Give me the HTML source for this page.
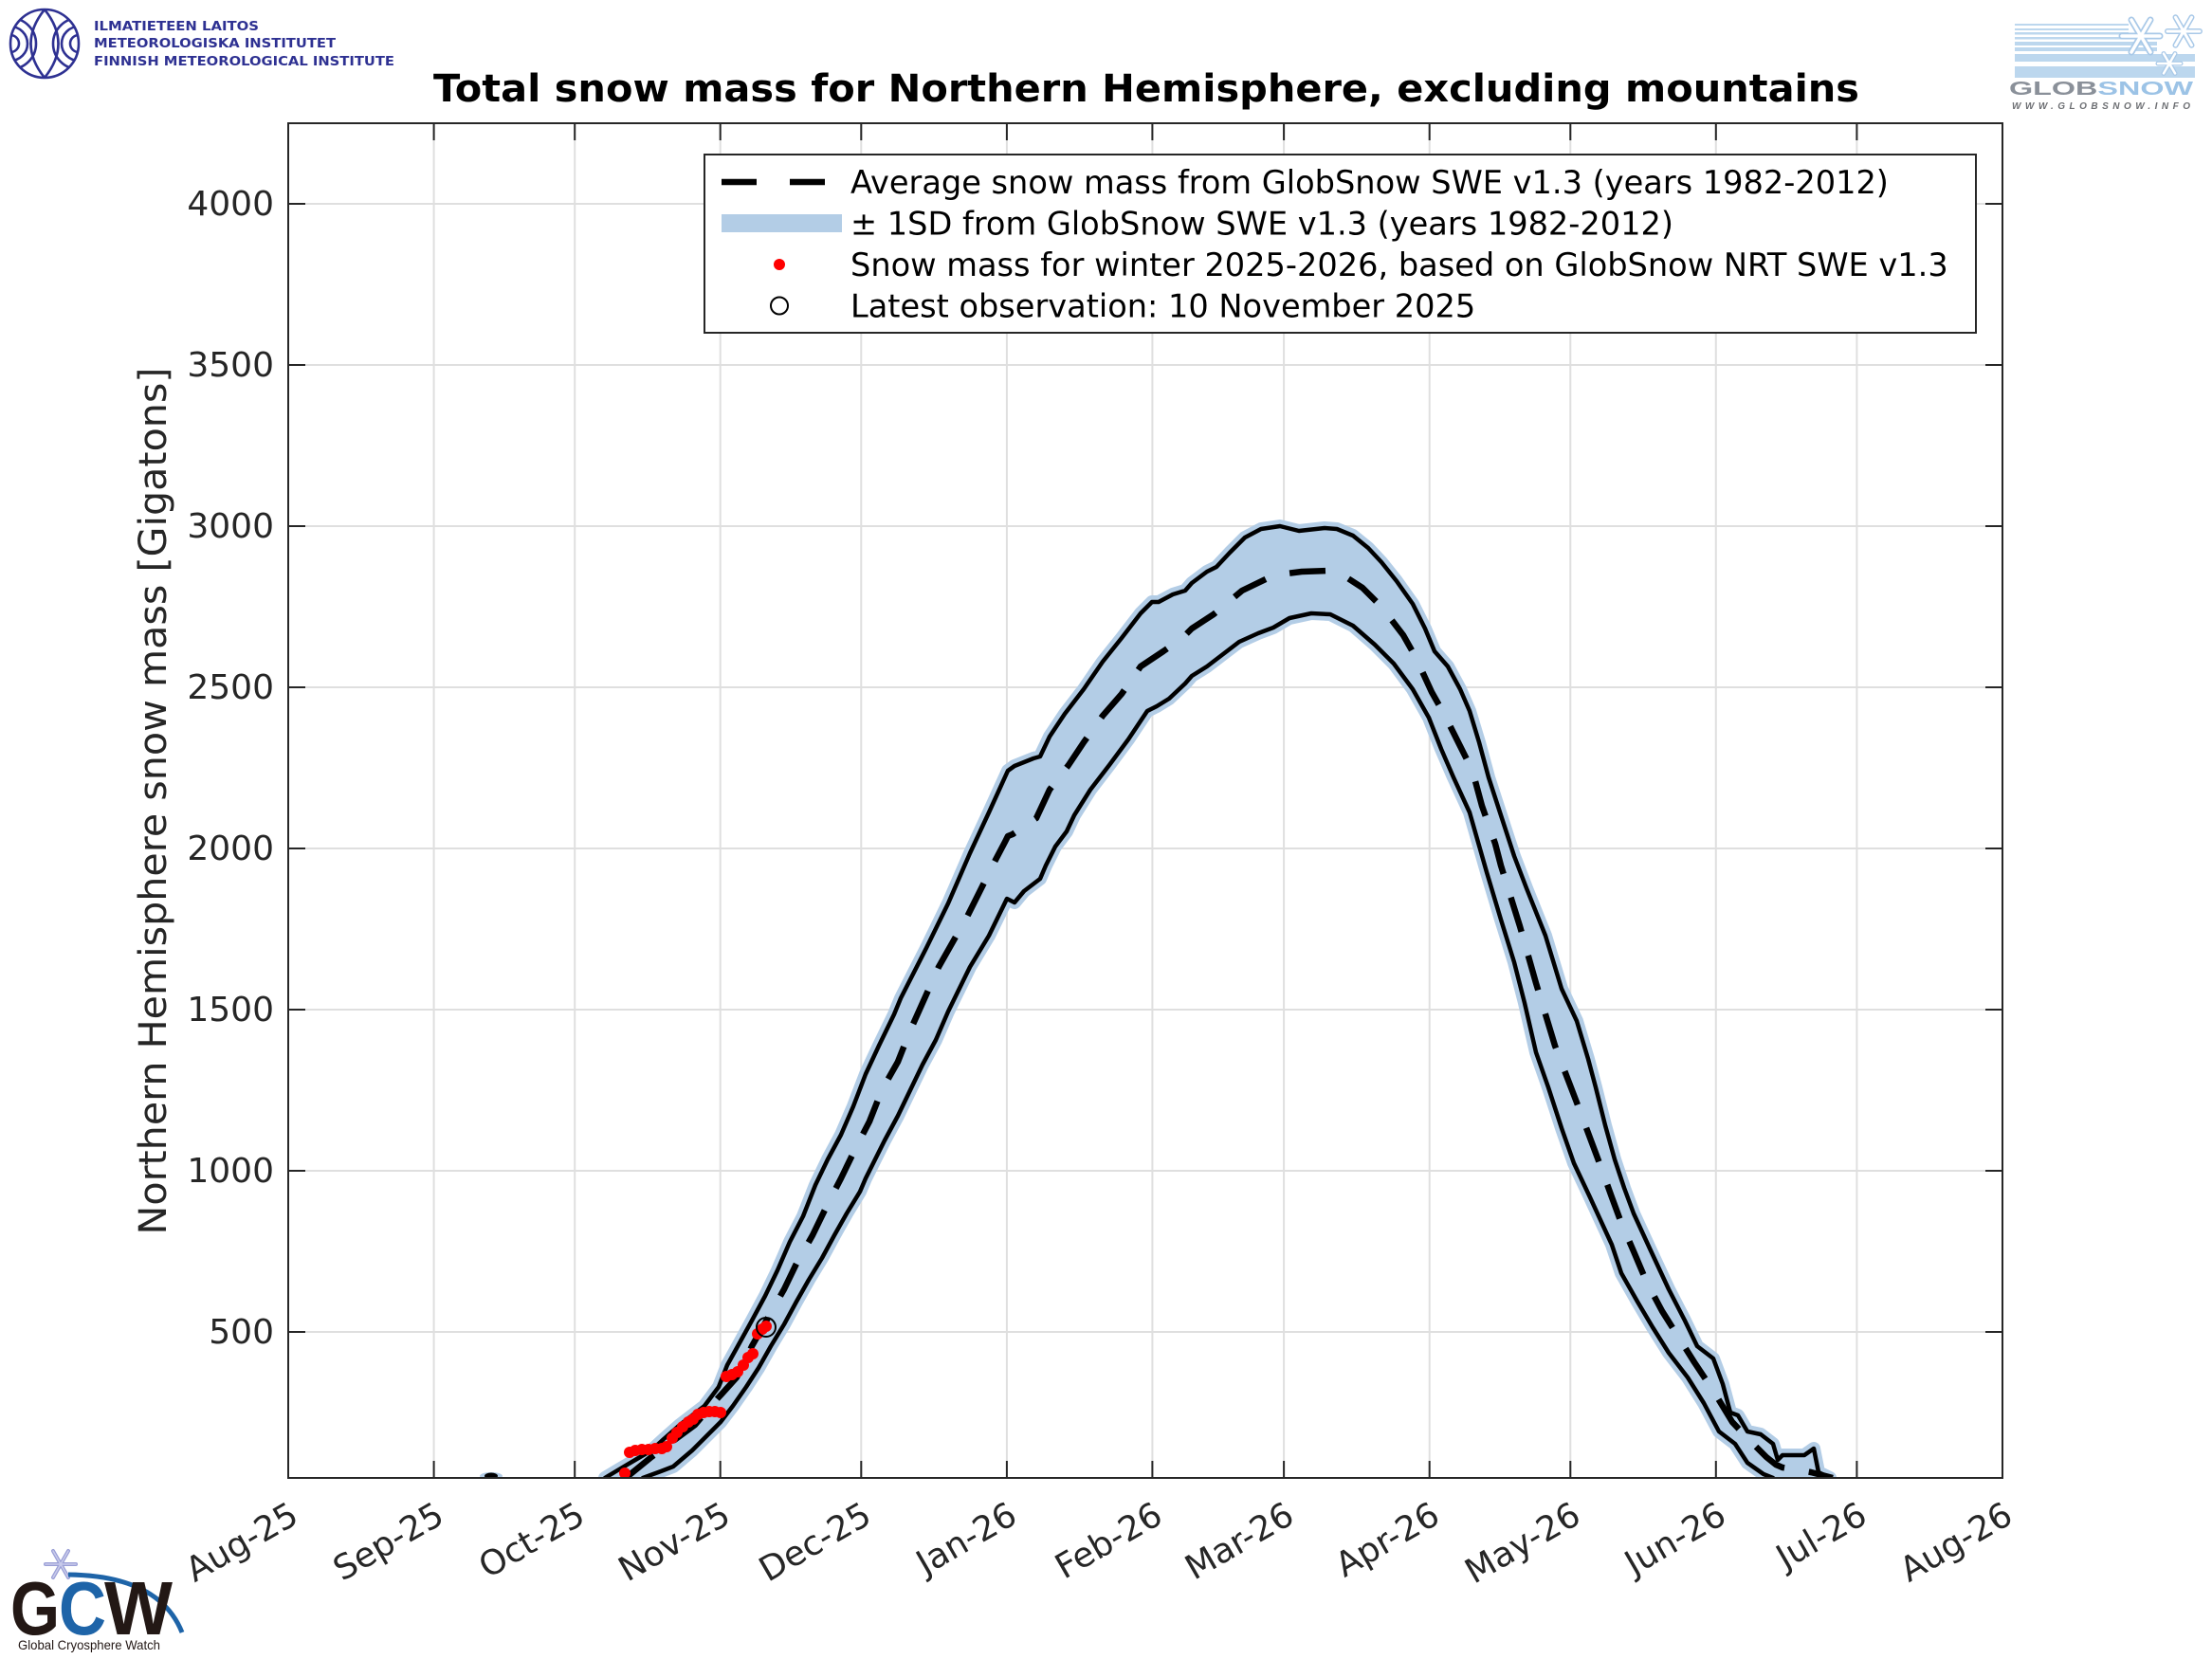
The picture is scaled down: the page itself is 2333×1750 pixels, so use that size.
<!DOCTYPE html>
<html>
<head>
<meta charset="utf-8">
<style>
html,body{margin:0;padding:0;background:#fff;}
svg{display:block;}
</style>
</head>
<body>
<svg xmlns="http://www.w3.org/2000/svg" width="2333" height="1750" viewBox="0 0 2333 1750">
<defs>
<clipPath id="pc"><rect x="304" y="130" width="1808" height="1429"/></clipPath>
<clipPath id="fmiclip"><circle cx="47" cy="46" r="36"/></clipPath>
</defs>
<rect x="0" y="0" width="2333" height="1750" fill="#ffffff"/>

<!-- FMI logo -->
<g stroke="#2e3192" fill="none" stroke-width="2.6">
<circle cx="47" cy="46" r="36"/>
<g clip-path="url(#fmiclip)">
<path d="M47 10 Q18 46 47 82"/>
<path d="M47 10 Q76 46 47 82"/>
<circle cx="11" cy="46" r="9"/>
<circle cx="11" cy="46" r="18"/>
<circle cx="11" cy="46" r="27"/>
<circle cx="83" cy="46" r="9"/>
<circle cx="83" cy="46" r="18"/>
<circle cx="83" cy="46" r="27"/>
</g>
</g>
<g font-family="DejaVu Sans, Liberation Sans, sans-serif" font-weight="bold" font-size="13" fill="#2e3192">
<text x="99" y="32" textLength="174" lengthAdjust="spacingAndGlyphs">ILMATIETEEN LAITOS</text>
<text x="99" y="50" textLength="255" lengthAdjust="spacingAndGlyphs">METEOROLOGISKA INSTITUTET</text>
<text x="99" y="69" textLength="317" lengthAdjust="spacingAndGlyphs">FINNISH METEOROLOGICAL INSTITUTE</text>
</g>

<!-- GlobSnow logo -->
<g fill="#bcd7ee">
<rect x="2125" y="25" width="120" height="2"/>
<rect x="2125" y="30" width="120" height="2"/>
<rect x="2125" y="34" width="120" height="2.5"/>
<rect x="2125" y="39" width="120" height="2.5"/>
<rect x="2125" y="44" width="150" height="4"/>
<rect x="2125" y="50" width="150" height="4"/>
<rect x="2125" y="57" width="190" height="8"/>
<rect x="2125" y="70" width="190" height="12"/>
</g>
<g stroke-linecap="round">
<g transform="translate(2258,38)">
<g stroke="#a9c9e8" stroke-width="7">
<line x1="-20" y1="0" x2="20" y2="0"/><line x1="-10" y1="-17" x2="10" y2="17"/><line x1="10" y1="-17" x2="-10" y2="17"/>
</g>
<g stroke="#ffffff" stroke-width="3.5">
<line x1="-20" y1="0" x2="20" y2="0"/><line x1="-10" y1="-17" x2="10" y2="17"/><line x1="10" y1="-17" x2="-10" y2="17"/>
</g>
</g>
<g transform="translate(2303,33)">
<g stroke="#a9c9e8" stroke-width="6">
<line x1="-17" y1="0" x2="17" y2="0"/><line x1="-8.5" y1="-14.7" x2="8.5" y2="14.7"/><line x1="8.5" y1="-14.7" x2="-8.5" y2="14.7"/>
</g>
<g stroke="#ffffff" stroke-width="3">
<line x1="-17" y1="0" x2="17" y2="0"/><line x1="-8.5" y1="-14.7" x2="8.5" y2="14.7"/><line x1="8.5" y1="-14.7" x2="-8.5" y2="14.7"/>
</g>
</g>
<g transform="translate(2288,67)">
<g stroke="#a9c9e8" stroke-width="5">
<line x1="-12" y1="0" x2="12" y2="0"/><line x1="-6" y1="-10.4" x2="6" y2="10.4"/><line x1="6" y1="-10.4" x2="-6" y2="10.4"/>
</g>
<g stroke="#ffffff" stroke-width="2.5">
<line x1="-12" y1="0" x2="12" y2="0"/><line x1="-6" y1="-10.4" x2="6" y2="10.4"/><line x1="6" y1="-10.4" x2="-6" y2="10.4"/>
</g>
</g>
</g>
<text x="2119" y="100" font-family="Liberation Sans, sans-serif" font-weight="bold" font-size="20" textLength="194" lengthAdjust="spacingAndGlyphs"><tspan fill="#8a9099">GLOB</tspan><tspan fill="#9cc3e6">SNOW</tspan></text>
<text x="2122" y="115" font-family="Liberation Sans, sans-serif" font-weight="bold" font-style="italic" font-size="10" fill="#6d6f73" textLength="188" lengthAdjust="spacing">WWW.GLOBSNOW.INFO</text>

<!-- GCW logo -->
<g transform="translate(64,1650)" stroke="#9a9fd6" stroke-width="4" stroke-linecap="round">
<line x1="-16" y1="0" x2="16" y2="0"/><line x1="-8" y1="-14" x2="8" y2="14"/><line x1="8" y1="-14" x2="-8" y2="14"/>
</g>
<g transform="translate(64,1650)" stroke="#c9cbeb" stroke-width="1.5" stroke-linecap="round">
<line x1="-16" y1="0" x2="16" y2="0"/><line x1="-8" y1="-14" x2="8" y2="14"/><line x1="8" y1="-14" x2="-8" y2="14"/>
</g>
<path d="M72 1661 Q168 1662 192 1722" stroke="#1e64a8" stroke-width="5" fill="none"/>
<g font-family="Liberation Sans, sans-serif" font-weight="bold" font-size="80">
<text x="11" y="1724" fill="#231815" textLength="52" lengthAdjust="spacingAndGlyphs">G</text>
<text x="62" y="1724" fill="#1e64a8" textLength="50" lengthAdjust="spacingAndGlyphs">C</text>
<text x="110" y="1724" fill="#231815" textLength="72" lengthAdjust="spacingAndGlyphs">W</text>
</g>
<text x="19" y="1740" font-family="Liberation Sans, sans-serif" font-size="14" fill="#231815" textLength="150" lengthAdjust="spacingAndGlyphs">Global Cryosphere Watch</text>

<!-- Title -->
<text x="457" y="107" font-family="DejaVu Sans, Liberation Sans, sans-serif" font-weight="bold" font-size="40" fill="#000" textLength="1504" lengthAdjust="spacingAndGlyphs">Total snow mass for Northern Hemisphere, excluding mountains</text>

<!-- Grid -->
<g stroke="#dfdfdf" stroke-width="2">
<line x1="457.6" y1="130" x2="457.6" y2="1559"/>
<line x1="606.2" y1="130" x2="606.2" y2="1559"/>
<line x1="759.7" y1="130" x2="759.7" y2="1559"/>
<line x1="908.3" y1="130" x2="908.3" y2="1559"/>
<line x1="1061.9" y1="130" x2="1061.9" y2="1559"/>
<line x1="1215.4" y1="130" x2="1215.4" y2="1559"/>
<line x1="1354.1" y1="130" x2="1354.1" y2="1559"/>
<line x1="1507.7" y1="130" x2="1507.7" y2="1559"/>
<line x1="1656.3" y1="130" x2="1656.3" y2="1559"/>
<line x1="1809.8" y1="130" x2="1809.8" y2="1559"/>
<line x1="1958.4" y1="130" x2="1958.4" y2="1559"/>
<line x1="304" y1="215" x2="2112" y2="215"/>
<line x1="304" y1="385" x2="2112" y2="385"/>
<line x1="304" y1="555" x2="2112" y2="555"/>
<line x1="304" y1="725" x2="2112" y2="725"/>
<line x1="304" y1="895" x2="2112" y2="895"/>
<line x1="304" y1="1065" x2="2112" y2="1065"/>
<line x1="304" y1="1235" x2="2112" y2="1235"/>
<line x1="304" y1="1405" x2="2112" y2="1405"/>
</g>

<!-- Data -->
<g clip-path="url(#pc)">
<ellipse cx="518" cy="1557" rx="12" ry="4" fill="#b3cde6"/>
<ellipse cx="518" cy="1557" rx="7" ry="3.5" fill="#000"/>
<path fill="#b3cde6" stroke="#b3cde6" stroke-width="14" stroke-linejoin="round" d="M638,1559 L653,1550 670,1540 687,1530 700,1518 717,1503 730,1493 743,1483 758,1463 767,1440 777,1422 793,1393 807,1367 820,1340 833,1310 847,1283 860,1250 873,1223 887,1197 900,1167 913,1133 927,1103 943,1070 950,1053 977,1000 1000,953 1023,900 1043,857 1063,813 1070,808 1090,800 1097,798 1107,777 1123,753 1143,727 1163,698 1183,673 1203,647 1215,635 1222,635 1237,627 1250,623 1257,615 1273,603 1283,598 1297,583 1313,567 1330,558 1350,555 1370,560 1397,557 1410,558 1427,565 1443,578 1457,593 1473,613 1490,637 1503,663 1513,687 1527,703 1540,727 1550,750 1560,783 1570,820 1583,860 1597,903 1610,937 1630,987 1647,1043 1663,1077 1675,1117 1683,1147 1693,1187 1703,1223 1713,1253 1723,1280 1740,1317 1760,1360 1777,1393 1790,1420 1807,1433 1817,1460 1825,1490 1833,1493 1843,1510 1857,1513 1870,1523 1875,1540 1880,1535 1903,1535 1913,1528 1918,1553 1930,1559 L1870,1559 1860,1555 1843,1543 1830,1523 1813,1510 1797,1480 1780,1453 1760,1427 1743,1400 1727,1373 1710,1343 1700,1313 1677,1263 1660,1227 1647,1190 1633,1147 1620,1110 1608,1058 1597,1015 1583,970 1568,920 1558,885 1550,857 1533,820 1520,790 1507,757 1490,727 1470,700 1450,680 1427,660 1403,648 1383,647 1360,652 1343,662 1327,668 1307,677 1290,690 1273,703 1257,713 1250,721 1233,737 1220,745 1210,750 1190,780 1170,807 1150,833 1133,860 1125,877 1113,893 1103,913 1097,927 1080,940 1070,952 1062,948 1043,987 1023,1020 1000,1067 987,1097 973,1123 960,1150 947,1177 933,1203 923,1223 913,1243 907,1257 893,1280 880,1303 867,1327 853,1350 840,1373 827,1397 813,1420 800,1443 787,1463 773,1483 760,1500 747,1513 730,1530 710,1547 697,1552 678,1559 Z"/>
<g fill="none" stroke="#000" stroke-width="4.5" stroke-linejoin="round" stroke-linecap="round">
<polyline points="638,1559 653,1550 670,1540 687,1530 700,1518 717,1503 730,1493 743,1483 758,1463 767,1440 777,1422 793,1393 807,1367 820,1340 833,1310 847,1283 860,1250 873,1223 887,1197 900,1167 913,1133 927,1103 943,1070 950,1053 977,1000 1000,953 1023,900 1043,857 1063,813 1070,808 1090,800 1097,798 1107,777 1123,753 1143,727 1163,698 1183,673 1203,647 1215,635 1222,635 1237,627 1250,623 1257,615 1273,603 1283,598 1297,583 1313,567 1330,558 1350,555 1370,560 1397,557 1410,558 1427,565 1443,578 1457,593 1473,613 1490,637 1503,663 1513,687 1527,703 1540,727 1550,750 1560,783 1570,820 1583,860 1597,903 1610,937 1630,987 1647,1043 1663,1077 1675,1117 1683,1147 1693,1187 1703,1223 1713,1253 1723,1280 1740,1317 1760,1360 1777,1393 1790,1420 1807,1433 1817,1460 1825,1490 1833,1493 1843,1510 1857,1513 1870,1523 1875,1540 1880,1535 1903,1535 1913,1528 1918,1553 1930,1559"/>
<polyline points="678,1559 697,1552 710,1547 730,1530 747,1513 760,1500 773,1483 787,1463 800,1443 813,1420 827,1397 840,1373 853,1350 867,1327 880,1303 893,1280 907,1257 913,1243 923,1223 933,1203 947,1177 960,1150 973,1123 987,1097 1000,1067 1023,1020 1043,987 1062,948 1070,952 1080,940 1097,927 1103,913 1113,893 1125,877 1133,860 1150,833 1170,807 1190,780 1210,750 1220,745 1233,737 1250,721 1257,713 1273,703 1290,690 1307,677 1327,668 1343,662 1360,652 1383,647 1403,648 1427,660 1450,680 1470,700 1490,727 1507,757 1520,790 1533,820 1550,857 1558,885 1568,920 1583,970 1597,1015 1608,1058 1620,1110 1633,1147 1647,1190 1660,1227 1677,1263 1700,1313 1710,1343 1727,1373 1743,1400 1760,1427 1780,1453 1797,1480 1813,1510 1830,1523 1843,1543 1860,1555 1870,1559"/>
</g>
<polyline fill="none" stroke="#000" stroke-width="6.5" stroke-dasharray="38 26" stroke-linejoin="round" points="660,1559 687,1537 710,1520 733,1503 757,1475 777,1453 793,1420 810,1390 827,1360 840,1333 857,1303 873,1270 887,1243 903,1210 917,1183 930,1150 947,1120 960,1087 990,1020 1020,967 1040,927 1050,907 1060,888 1063,882 1068,880 1093,863 1107,833 1127,807 1143,783 1163,755 1183,732 1203,703 1227,687 1247,673 1257,663 1280,648 1310,623 1337,610 1357,605 1373,603 1400,602 1417,607 1437,620 1457,640 1480,670 1493,693 1510,730 1523,753 1540,787 1553,813 1563,850 1577,890 1583,913 1603,977 1620,1037 1640,1103 1663,1163 1687,1227 1700,1263 1710,1290 1723,1320 1737,1353 1753,1383 1770,1410 1787,1437 1807,1467 1827,1500 1843,1517 1863,1537 1873,1545 1880,1548 1893,1550 1910,1553 1933,1559"/>
<g fill="#ff0000">
<circle cx="659" cy="1554" r="6"/>
<circle cx="664" cy="1532" r="6"/>
<circle cx="670" cy="1530" r="6"/>
<circle cx="677" cy="1529" r="6"/>
<circle cx="684" cy="1529" r="6"/>
<circle cx="691" cy="1528" r="6"/>
<circle cx="698" cy="1528" r="6"/>
<circle cx="703" cy="1526" r="6"/>
<circle cx="709" cy="1517" r="6"/>
<circle cx="714" cy="1511" r="6"/>
<circle cx="720" cy="1505" r="6"/>
<circle cx="726" cy="1500" r="6"/>
<circle cx="731" cy="1497" r="6"/>
<circle cx="736" cy="1492" r="6"/>
<circle cx="742" cy="1490" r="6"/>
<circle cx="748" cy="1489" r="6"/>
<circle cx="754" cy="1489" r="6"/>
<circle cx="760" cy="1490" r="6"/>
<circle cx="766" cy="1452" r="6"/>
<circle cx="772" cy="1450" r="6"/>
<circle cx="778" cy="1447" r="6"/>
<circle cx="784" cy="1440" r="6"/>
<circle cx="789" cy="1432" r="6"/>
<circle cx="794" cy="1428" r="6"/>
<circle cx="799" cy="1407" r="6"/>
<circle cx="804" cy="1402" r="6"/>
<circle cx="808" cy="1399" r="6"/>
</g>
<circle cx="808" cy="1400" r="10" fill="none" stroke="#000" stroke-width="2"/>
</g>

<!-- Axes box and ticks -->
<g stroke="#262626" stroke-width="2" fill="none">
<rect x="304" y="130" width="1808" height="1429"/>
<path d="M304 215h18M304 385h18M304 555h18M304 725h18M304 895h18M304 1065h18M304 1235h18M304 1405h18"/>
<path d="M2112 215h-18M2112 385h-18M2112 555h-18M2112 725h-18M2112 895h-18M2112 1065h-18M2112 1235h-18M2112 1405h-18"/>
<path d="M304 1559v-18M457.6 1559v-18M606.2 1559v-18M759.7 1559v-18M908.3 1559v-18M1061.9 1559v-18M1215.4 1559v-18M1354.1 1559v-18M1507.7 1559v-18M1656.3 1559v-18M1809.8 1559v-18M1958.4 1559v-18M2112 1559v-18"/>
<path d="M304 130v18M457.6 130v18M606.2 130v18M759.7 130v18M908.3 130v18M1061.9 130v18M1215.4 130v18M1354.1 130v18M1507.7 130v18M1656.3 130v18M1809.8 130v18M1958.4 130v18M2112 130v18"/>
</g>

<!-- Y tick labels -->
<g font-family="DejaVu Sans, Liberation Sans, sans-serif" font-size="36" fill="#262626" text-anchor="end">
<text x="289" y="227">4000</text>
<text x="289" y="397">3500</text>
<text x="289" y="567">3000</text>
<text x="289" y="737">2500</text>
<text x="289" y="907">2000</text>
<text x="289" y="1077">1500</text>
<text x="289" y="1247">1000</text>
<text x="289" y="1417">500</text>
</g>

<!-- X tick labels -->
<g font-family="DejaVu Sans, Liberation Sans, sans-serif" font-size="36" fill="#262626" text-anchor="end">
<text x="317" y="1605" transform="rotate(-30 317 1605)">Aug-25</text>
<text x="470.6" y="1605" transform="rotate(-30 470.6 1605)">Sep-25</text>
<text x="619.2" y="1605" transform="rotate(-30 619.2 1605)">Oct-25</text>
<text x="772.7" y="1605" transform="rotate(-30 772.7 1605)">Nov-25</text>
<text x="921.3" y="1605" transform="rotate(-30 921.3 1605)">Dec-25</text>
<text x="1074.9" y="1605" transform="rotate(-30 1074.9 1605)">Jan-26</text>
<text x="1228.4" y="1605" transform="rotate(-30 1228.4 1605)">Feb-26</text>
<text x="1367.1" y="1605" transform="rotate(-30 1367.1 1605)">Mar-26</text>
<text x="1520.7" y="1605" transform="rotate(-30 1520.7 1605)">Apr-26</text>
<text x="1669.3" y="1605" transform="rotate(-30 1669.3 1605)">May-26</text>
<text x="1822.8" y="1605" transform="rotate(-30 1822.8 1605)">Jun-26</text>
<text x="1971.4" y="1605" transform="rotate(-30 1971.4 1605)">Jul-26</text>
<text x="2125" y="1605" transform="rotate(-30 2125 1605)">Aug-26</text>
</g>

<!-- Y label -->
<text transform="translate(175,845) rotate(-90)" x="-457.5" y="0" font-family="DejaVu Sans, Liberation Sans, sans-serif" font-size="40" fill="#262626" textLength="915" lengthAdjust="spacingAndGlyphs">Northern Hemisphere snow mass [Gigatons]</text>

<!-- Legend -->
<rect x="743" y="163" width="1341" height="188" fill="#ffffff" stroke="#262626" stroke-width="2"/>
<line x1="761" y1="192" x2="870" y2="192" stroke="#000" stroke-width="6.5" stroke-dasharray="37 35"/>
<rect x="761" y="226" width="127" height="19" fill="#b3cde6"/>
<circle cx="822" cy="279" r="6" fill="#ff0000"/>
<circle cx="822" cy="322.5" r="9" fill="none" stroke="#000" stroke-width="2"/>
<g font-family="DejaVu Sans, Liberation Sans, sans-serif" font-size="33.6" fill="#000">
<text x="897" y="204">Average snow mass from GlobSnow SWE v1.3 (years 1982-2012)</text>
<text x="897" y="247.5">± 1SD from GlobSnow SWE v1.3 (years 1982-2012)</text>
<text x="897" y="291">Snow mass for winter 2025-2026, based on GlobSnow NRT SWE v1.3</text>
<text x="897" y="334.5">Latest observation: 10 November 2025</text>
</g>
</svg>
</body>
</html>
